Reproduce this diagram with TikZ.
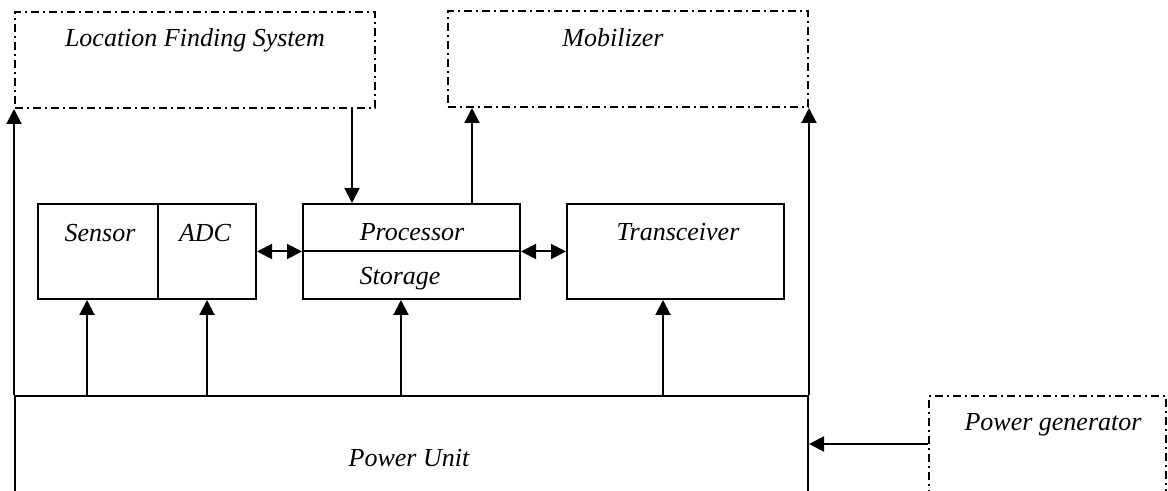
\documentclass[tikz,border=0pt]{standalone}
\usepackage{fontspec}
\setmainfont{Liberation Serif}
\usetikzlibrary{arrows.meta,fit}
\tikzset{
	box/.style={draw,line width=1pt,inner sep=0pt},
	dbox/.style={box,dash pattern=on 4pt off 2pt on 1pt off 2pt},
	txt/.style={font=\fontsize{13}{15}\selectfont\itshape,inner sep=0pt},
}

\begin{document}
\begin{tikzpicture}[x=0.5pt,y=-0.5pt,line width=1pt,>={Triangle[length=7.5pt,width=7.5pt]}]
	\useasboundingbox (0,0) rectangle (1168,491);
	\node[dbox,fit={(15,12) (375,108)}] (lfs) {};
	\node[dbox,fit={(448,11) (808,107)}] (mob) {};
	\node[box,fit={(38,204) (158,299)}] (sensor) {};
	\node[box,fit={(158,204) (256,299)}] (adc) {};
	\node[box,fit={(303,204) (520,299)}] (proc) {};
	\node[box,fit={(567,204) (784,299)}] (trans) {};
	\node[box,fit={(15,396) (808,530)}] (power) {};
	\node[dbox,fit={(929,396) (1166,530)}] (gen) {};
	\draw (proc.west) -- (proc.east);

	\node[txt] (lfs-t) at (195,40) {Location Finding System};
	\node[txt] (mob-t) at (613,38) {Mobilizer};
	\node[txt] (sensor-t) at (100,233) {Sensor};
	\node[txt] (adc-t) at (205,233) {ADC};
	\node[txt] (proc-t) at (412,232) {Processor};
	\node[txt] (stor-t) at (400,279) {Storage};
	\node[txt] (trans-t) at (678,232) {Transceiver};
	\node[txt] (power-t) at (409,458) {Power Unit};
	\node[txt] (gen-t) at (1053,425) {Power generator};

	\coordinate (p1) at (87,396);
	\coordinate (p2) at (207,396);
	\coordinate (p3) at (401,396);
	\coordinate (p4) at (663,396);
	\coordinate (d1) at (352,0);
	\coordinate (d2) at (472,0);
	\coordinate (g1) at (0,444);

	\path[->]
		(power.north west) edge (lfs.south west)
		(power.north east) edge (mob.south east)
		(d1 |- lfs.south) edge (d1 |- proc.north)
		(d2 |- proc.north) edge (d2 |- mob.south)
		(adc.east) edge [<->] (proc.west)
		(proc.east) edge [<->] (trans.west)
		(p1) edge (p1 |- sensor.south)
		(p2) edge (p2 |- adc.south)
		(p3) edge (p3 |- proc.south)
		(p4) edge (p4 |- trans.south)
		(g1 -| gen.west) edge (g1 -| power.east);
\end{tikzpicture}
\end{document}
